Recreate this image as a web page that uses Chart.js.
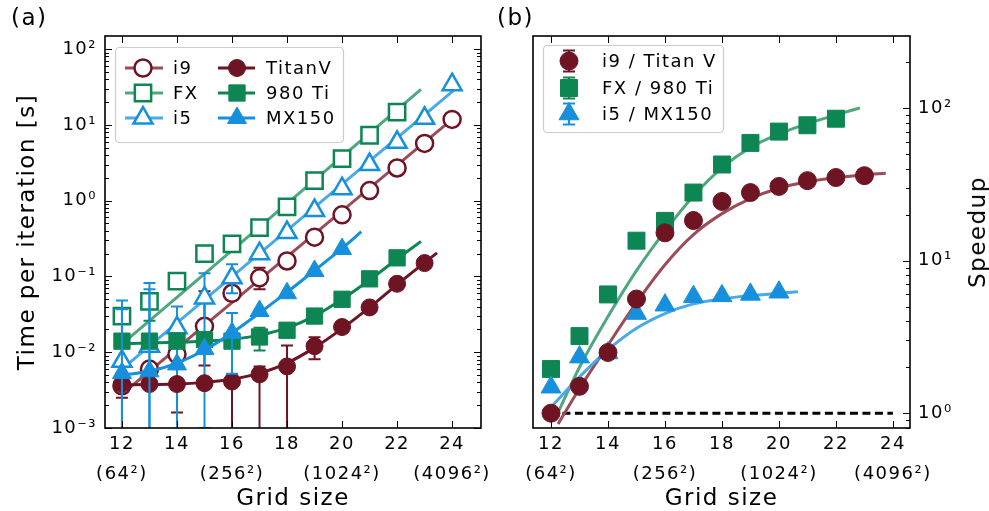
<!DOCTYPE html>
<html>
<head>
<meta charset="utf-8">
<title>Time per iteration and speedup</title>
<script src="https://cdn.jsdelivr.net/npm/chart.js@4.4.1/dist/chart.umd.min.js"></script>
<style>
  body { margin: 0; background: #fff; font-family: "DejaVu Sans", sans-serif; letter-spacing: 1.5px; }
  #wrap { position: relative; width: 989px; height: 511px; overflow: hidden; }
  canvas { position: absolute; top: 0; }
  #ca { left: 0; }
  #cb { left: 495px; }
  .tag { position: absolute; top: 4px; font-size: 23px; line-height: 26px; }
  #speed { position: absolute; left: 977px; top: 232px; font-size: 23px; line-height: 26px;
           transform: translate(-50%, -50%) rotate(-90deg); white-space: nowrap; }
</style>
</head>
<body>
<div id="wrap">
  <canvas id="ca" width="495" height="511"></canvas>
  <canvas id="cb" width="494" height="511"></canvas>
  <div class="tag" style="left:11px">(a)</div>
  <div class="tag" style="left:497px">(b)</div>
  <div id="speed">Speedup</div>
</div>
<script>
// grid sizes (log2 of N), ticks on the x axis
const gridSize = [12, 13, 14, 15, 16, 17, 18, 19, 20, 21, 22, 23, 24];
const xTicks = [12, 14, 16, 18, 20, 22, 24];
const xSubLabels = { 12: '(64²)', 16: '(256²)', 20: '(1024²)', 24: '(4096²)' };

// (a) time per iteration [s], starting at grid size 12
const i9Time    = [0.0036, 0.0060, 0.0094, 0.022, 0.060, 0.096, 0.16, 0.33, 0.65, 1.36, 2.7, 5.7, 11.8];
const fxTime    = [0.030, 0.047, 0.087, 0.20, 0.27, 0.44, 0.83, 1.84, 3.6, 7.3, 14.7];
const i5Time    = [0.0076, 0.012, 0.021, 0.052, 0.096, 0.20, 0.38, 0.74, 1.44, 3.0, 5.9, 12.2, 34];
const titanTime = [0.0038, 0.0038, 0.0038, 0.0039, 0.0041, 0.0051, 0.0065, 0.012, 0.0215, 0.039, 0.080, 0.15];
const gtxTime   = [0.014, 0.014, 0.014, 0.0147, 0.014, 0.0159, 0.0195, 0.030, 0.050, 0.093, 0.176];
const mxTime    = [0.0053, 0.0056, 0.0069, 0.011, 0.018, 0.035, 0.060, 0.118, 0.23];

// error bars [low, high] by grid size
const i9Err    = { 12: [0.0025, 0.0045], 14: [0.0016, 0.013], 15: [0.0067, 0.064], 17: [0.068, 0.13] };
const fxErr    = { 13: [0.026, 0.06] };
const i5Err    = { 12: [0.0005, 0.048], 13: [0.0005, 0.082], 14: [0.0005, 0.04], 15: [0.001, 0.11], 16: [0.06, 0.145] };
const titanErr = { 16: [0.0005, 0.005], 17: [0.0005, 0.0065], 18: [0.0005, 0.0123], 19: [0.0081, 0.0158] };
const gtxErr   = { 17: [0.0105, 0.021] };
const mxErr    = { 12: [0.0005, 0.037], 13: [0.0005, 0.068], 16: [0.0052, 0.033] };

// (a) fitted curves
const i9FitX = [12, 24];       const i9FitY = [0.0028, 11.8];
const fxFitX = [12, 22.87];    const fxFitY = [0.0128, 29.5];
const i5FitX = [12, 24.1];     const i5FitY = [0.006, 29.5];
const titanFitX = [12, 13, 14, 15, 16, 17, 18, 19, 20, 21, 22, 23, 23.45];
const titanFitY = [0.0037, 0.00375, 0.0038, 0.0040, 0.0044, 0.0053, 0.0072, 0.0115, 0.0205, 0.039, 0.078, 0.152, 0.205];
const gtxFitX = [12, 13, 14, 15, 16, 17, 18, 19, 20, 21, 22, 22.87];
const gtxFitY = [0.013, 0.0132, 0.0135, 0.014, 0.0148, 0.0168, 0.021, 0.030, 0.050, 0.090, 0.170, 0.29];
const mxFitX = [12, 13, 14, 15, 16, 17, 18, 19, 20, 20.7];
const mxFitY = [0.005, 0.0056, 0.0072, 0.0107, 0.018, 0.033, 0.062, 0.12, 0.235, 0.39];

// (b) speedup, starting at grid size 12
const titanSpeed = [1.0, 1.5, 2.5, 5.6, 15.2, 18.3, 24.4, 27.9, 30.6, 33.4, 35, 36];
const gtxSpeed   = [1.95, 3.2, 6.0, 13.5, 18.2, 27.9, 42.6, 59, 70, 77, 85];
const mxSpeed    = [1.48, 2.33, 2.48, 4.5, 5.1, 5.8, 5.87, 6.0, 6.2];

// (b) fitted curves and unity line
const titanSpeedFitX = [12.25, 13, 14, 15, 16, 17, 18, 19, 20, 21, 22, 23, 23.75];
const titanSpeedFitY = [0.85, 1.45, 2.8, 5.3, 9.4, 14.8, 20.3, 25.5, 29.8, 32.8, 34.9, 36.4, 37.3];
const gtxSpeedFitX = [12.18, 13, 14, 15, 16, 17, 18, 19, 20, 21, 22, 22.84];
const gtxSpeedFitY = [0.95, 2.0, 4.3, 8.6, 15.6, 26.5, 40.5, 55, 67.5, 79, 90, 100];
const mxSpeedFitX = [12.07, 13, 14, 15, 16, 17, 18, 19, 20, 20.67];
const mxSpeedFitY = [1.13, 1.73, 2.6, 3.6, 4.5, 5.2, 5.6, 5.9, 6.1, 6.25];
const unityX = [12.4, 24];
const unityY = [1, 1];

const red = '#6E1423', redLight = '#9C4B58';
const green = '#0E8654', greenLight = '#4FA77E';
const blue = '#1690DC', blueLight = '#4AA9E6';
const FONT = 'DejaVu Sans';

function pts(xs, ys) { return ys.map((y, i) => ({ x: xs[i], y })); }

function markers(label, ys, style, color, open, radius, errors) {
  return {
    label, data: pts(gridSize, ys), showLine: false,
    pointStyle: style, pointRadius: radius,
    pointBackgroundColor: open ? '#fff' : color,
    pointBorderColor: color, pointBorderWidth: open ? 2.5 : 1,
    borderColor: color, backgroundColor: color,
    errors: errors || null
  };
}

function fit(label, xs, ys, color) {
  return {
    label, data: pts(xs, ys), borderColor: color, borderWidth: 3,
    pointRadius: 0, cubicInterpolationMode: 'monotone', fill: false
  };
}

const sup = { '-': '⁻', '0': '⁰', '1': '¹', '2': '²', '3': '³', '4': '⁴' };
function decadeLabel(v) {
  const e = String(Math.round(Math.log10(v)));
  return '10' + e.split('').map(c => sup[c]).join('');
}

function logTicks(min, max) {
  const t = [];
  for (let e = -4; e <= 3; e++) {
    for (let m = 1; m <= 9; m++) {
      const v = m * Math.pow(10, e);
      if (v >= min * 0.999 && v <= max * 1.001) t.push({ value: v, isMajor: m === 1 });
    }
  }
  return t;
}

// vertical error bars drawn under each series
const errorBars = {
  id: 'errorBars',
  beforeDatasetDraw(chart, args) {
    const ds = chart.data.datasets[args.index];
    if (!ds.errors) return;
    const { ctx, chartArea: a, scales: { x, y } } = chart;
    ctx.save();
    ctx.beginPath();
    ctx.rect(a.left, a.top, a.right - a.left, a.bottom - a.top);
    ctx.clip();
    ctx.strokeStyle = ds.borderColor;
    ctx.lineWidth = 2;
    Object.entries(ds.errors).forEach(([g, [lo, hi]]) => {
      const px = x.getPixelForValue(+g);
      const p1 = y.getPixelForValue(lo), p2 = y.getPixelForValue(hi);
      ctx.beginPath();
      ctx.moveTo(px, p1); ctx.lineTo(px, p2);
      ctx.moveTo(px - 6, p1); ctx.lineTo(px + 6, p1);
      ctx.moveTo(px - 6, p2); ctx.lineTo(px + 6, p2);
      ctx.stroke();
    });
    ctx.restore();
  }
};

// box frame with inward ticks, matplotlib style
const frameTicks = {
  id: 'frameTicks',
  beforeDraw(chart) { chart.ctx.letterSpacing = '1.5px'; },
  afterDatasetsDraw(chart, args, opts) {
    const { ctx, chartArea: a, scales: { x, y } } = chart;
    ctx.save();
    ctx.strokeStyle = '#000';
    ctx.lineWidth = 1;
    ctx.beginPath();
    x.ticks.forEach(t => {
      const px = Math.round(x.getPixelForValue(t.value)) + 0.5;
      ctx.moveTo(px, a.bottom); ctx.lineTo(px, a.bottom - 7);
      ctx.moveTo(px, a.top); ctx.lineTo(px, a.top + 7);
    });
    y.ticks.forEach(t => {
      const py = Math.round(y.getPixelForValue(t.value)) + 0.5;
      const len = t.isMajor ? 7 : 4;
      if (opts.left) { ctx.moveTo(a.left, py); ctx.lineTo(a.left + len, py); }
      if (opts.right) { ctx.moveTo(a.right, py); ctx.lineTo(a.right - len, py); }
    });
    ctx.stroke();
    ctx.lineWidth = 1.6;
    ctx.strokeRect(a.left, a.top, a.right - a.left, a.bottom - a.top);
    ctx.restore();
  }
};

function drawMarker(ctx, ds, x, y) {
  ctx.fillStyle = ds.pointBackgroundColor;
  ctx.strokeStyle = ds.pointBorderColor;
  ctx.lineWidth = ds.pointBorderWidth;
  Chart.helpers.drawPoint(ctx, { pointStyle: ds.pointStyle, rotation: 0, radius: ds.pointRadius, borderWidth: ds.pointBorderWidth }, x, y);
}

// framed legend in the upper left corner of the axes
const boxLegend = {
  id: 'boxLegend',
  afterDraw(chart, args, opts) {
    const { ctx, chartArea: a } = chart;
    const [bx, by, bw, bh] = opts.box;
    ctx.save();
    ctx.beginPath();
    ctx.roundRect(a.left + bx + 0.5, a.top + by + 0.5, bw, bh, 4);
    ctx.fillStyle = 'rgba(255,255,255,0.85)';
    ctx.fill();
    ctx.strokeStyle = '#cccccc';
    ctx.lineWidth = 1.2;
    ctx.stroke();
    opts.items.forEach(it => {
      const ds = chart.data.datasets.find(d => d.label === it.label);
      const my = a.top + it.y, mx = a.left + it.mx;
      if (it.line) {
        ctx.strokeStyle = it.line;
        ctx.lineWidth = 3;
        ctx.beginPath();
        ctx.moveTo(a.left + it.x0, my); ctx.lineTo(a.left + it.x1, my);
        ctx.stroke();
      }
      if (it.err) {
        ctx.strokeStyle = ds.borderColor;
        ctx.lineWidth = 2;
        ctx.beginPath();
        ctx.moveTo(mx, my - 10.5); ctx.lineTo(mx, my + 10.5);
        ctx.moveTo(mx - 6, my - 10.5); ctx.lineTo(mx + 6, my - 10.5);
        ctx.moveTo(mx - 6, my + 10.5); ctx.lineTo(mx + 6, my + 10.5);
        ctx.stroke();
      }
      drawMarker(ctx, ds, mx, my);
      ctx.fillStyle = '#000';
      ctx.font = '18px "' + FONT + '"';
      ctx.textBaseline = 'middle';
      ctx.textAlign = 'left';
      ctx.fillText(it.text || ds.label, a.left + it.tx, my + 1);
    });
    ctx.restore();
  }
};

function panelOptions(cfg) {
  return {
    responsive: false,
    animation: false,
    devicePixelRatio: 1,
    layout: { padding: cfg.padding },
    plugins: {
      legend: { display: false },
      tooltip: { enabled: false },
      boxLegend: cfg.legend,
      frameTicks: { left: cfg.yPos === 'left', right: true }
    },
    scales: {
      x: {
        type: 'linear', min: cfg.xMin, max: cfg.xMax,
        grid: { display: false, drawTicks: false }, border: { display: false },
        afterBuildTicks: s => { s.ticks = xTicks.map(v => ({ value: v })); },
        afterFit: s => { s.height = 83; s.paddingLeft = 0; s.paddingRight = 0; },
        ticks: {
          padding: 1, color: '#000', autoSkip: false, maxRotation: 0,
          font: { family: FONT, size: 18, lineHeight: 1.67 },
          callback: v => [String(v), xSubLabels[v] || '']
        },
        title: { display: true, text: 'Grid size', color: '#000', padding: 0,
                 font: { family: FONT, size: 23, lineHeight: 1 } }
      },
      y: {
        type: 'logarithmic', position: cfg.yPos, min: cfg.yMin, max: cfg.yMax,
        grid: { display: false, drawTicks: false }, border: { display: false },
        afterBuildTicks: s => { s.ticks = logTicks(cfg.yMin, cfg.yMax); },
        afterFit: s => { s.width = cfg.yWidth; s.paddingTop = 0; s.paddingBottom = 0; },
        ticks: {
          padding: 8, color: '#000', autoSkip: false,
          font: { family: FONT, size: 18 },
          callback: (v, i, t) => (t[i] && t[i].isMajor ? decadeLabel(v) : '')
        },
        title: cfg.yTitle
          ? { display: true, text: cfg.yTitle, color: '#000', padding: { top: 17, bottom: 0 },
              font: { family: FONT, size: 23, lineHeight: 1 } }
          : { display: false }
      }
    }
  };
}

// ---- panel (a) ----
const dsA = [
  fit('i9 fit', i9FitX, i9FitY, redLight),
  markers('i9', i9Time, 'circle', red, true, 8.5, i9Err),
  fit('FX fit', fxFitX, fxFitY, greenLight),
  markers('FX', fxTime, 'rect', green, true, 11.5, fxErr),
  fit('i5 fit', i5FitX, i5FitY, blueLight),
  markers('i5', i5Time, 'triangle', blue, true, 11, i5Err),
  fit('TitanV fit', titanFitX, titanFitY, red),
  markers('TitanV', titanTime, 'circle', red, false, 8.5, titanErr),
  fit('980 Ti fit', gtxFitX, gtxFitY, green),
  markers('980 Ti', gtxTime, 'rect', green, false, 11.5, gtxErr),
  fit('MX150 fit', mxFitX, mxFitY, blue),
  markers('MX150', mxTime, 'triangle', blue, false, 11, mxErr)
];
dsA.forEach((d, i) => { d.order = dsA.length - i; });

new Chart(document.getElementById('ca'), {
  type: 'line',
  data: { datasets: dsA },
  options: panelOptions({
    padding: { left: 0, right: 13, top: 36, bottom: 0 },
    xMin: 11.384, xMax: 25.05, yMin: 0.001, yMax: 149, yPos: 'left', yWidth: 105,
    yTitle: 'Time per iteration [s]',
    legend: {
      box: [10, 11, 228, 95],
      items: [
        { label: 'i9', y: 32, x0: 20, x1: 58, mx: 38, tx: 68, line: redLight },
        { label: 'FX', y: 57, x0: 20, x1: 58, mx: 38, tx: 68, line: greenLight },
        { label: 'i5', y: 82, x0: 20, x1: 58, mx: 38, tx: 68, line: blueLight },
        { label: 'TitanV', y: 32, x0: 113, x1: 150, mx: 132, tx: 161, line: red },
        { label: '980 Ti', y: 57, x0: 113, x1: 150, mx: 132, tx: 161, line: green },
        { label: 'MX150', y: 82, x0: 113, x1: 150, mx: 132, tx: 161, line: blue }
      ]
    }
  }),
  plugins: [errorBars, frameTicks, boxLegend]
});

// ---- panel (b) ----
const dsB = [
  fit('unity', unityX, unityY, '#000'),
  fit('i9 / Titan V fit', titanSpeedFitX, titanSpeedFitY, redLight),
  fit('FX / 980 Ti fit', gtxSpeedFitX, gtxSpeedFitY, greenLight),
  fit('i5 / MX150 fit', mxSpeedFitX, mxSpeedFitY, blueLight),
  markers('FX / 980 Ti', gtxSpeed, 'rect', green, false, 12),
  markers('i5 / MX150', mxSpeed, 'triangle', blue, false, 11.5),
  markers('i9 / Titan V', titanSpeed, 'circle', red, false, 9)
];
dsB[0].borderDash = [8, 4.5];
dsB.forEach((d, i) => { d.order = dsB.length - i; });

new Chart(document.getElementById('cb'), {
  type: 'line',
  data: { datasets: dsB },
  options: panelOptions({
    padding: { left: 38, right: 0, top: 36, bottom: 0 },
    xMin: 11.368, xMax: 24.6, yMin: 0.8, yMax: 296, yPos: 'right', yWidth: 79,
    legend: {
      box: [10, 9, 180, 87],
      items: [
        { label: 'i9 / Titan V', y: 25, mx: 36, tx: 69, err: true },
        { label: 'FX / 980 Ti', y: 52, mx: 36, tx: 69, err: true },
        { label: 'i5 / MX150', y: 78, mx: 36, tx: 69, err: true }
      ]
    }
  }),
  plugins: [errorBars, frameTicks, boxLegend]
});
</script>
</body>
</html>
